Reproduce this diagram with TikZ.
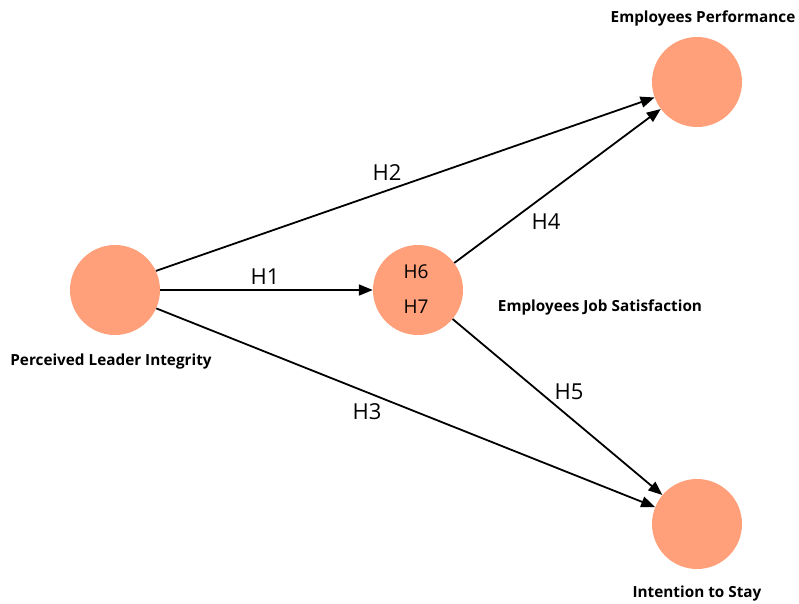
\documentclass[tikz,border=0pt]{standalone}
\usepackage{fontspec}
\setmainfont{Open Sans}
\usetikzlibrary{arrows.meta}
\definecolor{salmon}{HTML}{FFA07A}
\tikzset{
  construct/.style={circle, fill=salmon, draw=none, minimum size=90pt, inner sep=0pt},
  link/.style={line width=1.8pt, -{Triangle[length=14pt,width=11pt]}},
  hyp/.style={font=\fontsize{22}{24}\selectfont, inner sep=0pt},
  inhyp/.style={font=\fontsize{19}{21}\selectfont, inner sep=0pt},
  caption/.style={font=\bfseries\fontsize{15.3}{17}\selectfont, inner sep=0pt}
}
\begin{document}
\begin{tikzpicture}[x=1pt,y=-1pt]
\useasboundingbox (0,0) rectangle (799,603);
\node[construct] (L) at (115,290) {};
\node[construct] (M) at (418,290) {};
\node[construct] (TR) at (697,82) {};
\node[construct] (BR) at (697,524) {};

\node[inhyp] (h6) at (416,272) {H6};
\node[inhyp] (h7) at (416,307) {H7};

\draw[link] (L.east) -- (M.west);
\draw[link] (L.25) -- (TR.200);
\draw[link] (M) -- (TR);
\draw[link] (L.-24) -- (BR.158);
\draw[link] (M) -- (BR);

\node[hyp] (h1) at (265,277) {H1};
\node[hyp] (h2) at (387,173) {H2};
\node[hyp] (h3) at (367,412) {H3};
\node[hyp] (h4) at (546,222) {H4};
\node[hyp] (h5) at (569,392) {H5};

\node[caption] (cL) at (111,362) {Perceived Leader Integrity};
\node[caption] (cM) at (600,307) {Employees Job Satisfaction};
\node[caption] (cTR) at (703,18) {Employees Performance};
\node[caption] (cBR) at (697,594) {Intention to Stay};
\end{tikzpicture}
\end{document}
